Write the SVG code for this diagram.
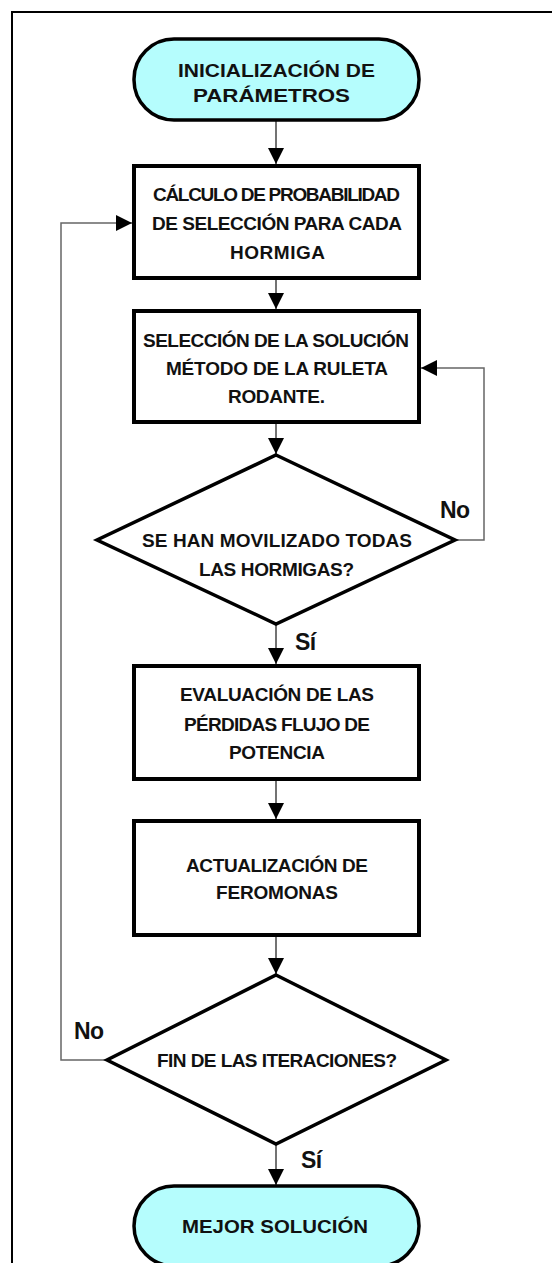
<svg xmlns="http://www.w3.org/2000/svg" width="552" height="1263" viewBox="0 0 552 1263">
<defs>
<marker id="ah" markerUnits="userSpaceOnUse" markerWidth="16" markerHeight="16" viewBox="0 0 16 16" refX="16" refY="8" orient="auto">
<path d="M0,0 L16,8 L0,16 Z" fill="#000"/>
</marker>
<style>
.box{fill:#fff;stroke:#000;stroke-width:4}
.term{fill:#b5fdfd;stroke:#000;stroke-width:3.5}
.dia{fill:#fff;stroke:#000;stroke-width:3.5}
.t{font-family:"Liberation Sans",Arial,sans-serif;font-weight:bold;font-size:19px;fill:#111;text-anchor:middle}
.lbl{font-family:"Liberation Sans",Arial,sans-serif;font-weight:bold;font-size:23px;letter-spacing:-0.5px;fill:#111}
.c{fill:none;stroke:#444;stroke-width:1.5}
.loop{fill:none;stroke:#666;stroke-width:1.5}
</style>
</defs>
<rect x="0" y="0" width="552" height="1263" fill="#fff"/>
<path d="M12,1263 V12 H552" fill="none" stroke="#000" stroke-width="2"/>

<g id="connectors">
<line class="c" x1="276" y1="120" x2="276" y2="164" marker-end="url(#ah)"/>
<line class="c" x1="276" y1="279" x2="276" y2="309" marker-end="url(#ah)"/>
<line class="c" x1="276" y1="423" x2="276" y2="454" marker-end="url(#ah)"/>
<line class="c" x1="276" y1="625" x2="276" y2="664" marker-end="url(#ah)"/>
<line class="c" x1="276" y1="780" x2="276" y2="819" marker-end="url(#ah)"/>
<line class="c" x1="276" y1="936" x2="276" y2="974" marker-end="url(#ah)"/>
<line class="c" x1="276" y1="1145" x2="276" y2="1185" marker-end="url(#ah)"/>
<path class="loop" d="M455,540 H484 V368 H421" marker-end="url(#ah)"/>
<path class="loop" d="M107,1060 H61 V223 H132" marker-end="url(#ah)"/>
<text class="lbl" x="440" y="518">No</text>
<text class="lbl" x="295" y="650">Sí</text>
<text class="lbl" x="74" y="1039">No</text>
<text class="lbl" x="301" y="1168">Sí</text>
</g>

<g id="start">
<rect class="term" x="134" y="39" width="285" height="81" rx="40" ry="40"/>
<text class="t" x="276.5" y="77" textLength="197" lengthAdjust="spacingAndGlyphs">INICIALIZACIÓN DE</text>
<text class="t" x="271.5" y="102" textLength="157" lengthAdjust="spacingAndGlyphs">PARÁMETROS</text>
</g>

<g id="calc">
<rect class="box" x="134" y="166" width="285" height="112"/>
<text class="t" x="276.5" y="201" textLength="247">CÁLCULO DE PROBABILIDAD</text>
<text class="t" x="277" y="230" textLength="250">DE SELECCIÓN PARA CADA</text>
<text class="t" x="277.5" y="259" textLength="95">HORMIGA</text>
</g>

<g id="select">
<rect class="box" x="134" y="311" width="285" height="111"/>
<text class="t" x="276" y="347" textLength="266">SELECCIÓN DE LA SOLUCIÓN</text>
<text class="t" x="277" y="375" textLength="222">MÉTODO DE LA RULETA</text>
<text class="t" x="276.5" y="403" textLength="97">RODANTE.</text>
</g>

<g id="dec1">
<polygon class="dia" points="276,455 455,540 276,624 97,540"/>
<text class="t" x="277" y="547" textLength="270">SE HAN MOVILIZADO TODAS</text>
<text class="t" x="276.5" y="576" textLength="155">LAS HORMIGAS?</text>
</g>

<g id="eval">
<rect class="box" x="134" y="666" width="285" height="113"/>
<text class="t" x="277" y="701" textLength="194">EVALUACIÓN DE LAS</text>
<text class="t" x="277" y="731" textLength="186">PÉRDIDAS FLUJO DE</text>
<text class="t" x="277" y="759" textLength="96">POTENCIA</text>
</g>

<g id="update">
<rect class="box" x="134" y="821" width="285" height="114"/>
<text class="t" x="277" y="872" textLength="182">ACTUALIZACIÓN DE</text>
<text class="t" x="277" y="899" textLength="122">FEROMONAS</text>
</g>

<g id="dec2">
<polygon class="dia" points="276,975 446,1060 276,1144 107,1060"/>
<text class="t" x="277" y="1067" textLength="240">FIN DE LAS ITERACIONES?</text>
</g>

<g id="end">
<rect class="term" x="134" y="1186" width="285" height="80" rx="40" ry="40"/>
<text class="t" x="275" y="1233" textLength="186" lengthAdjust="spacingAndGlyphs">MEJOR SOLUCIÓN</text>
</g>
</svg>
